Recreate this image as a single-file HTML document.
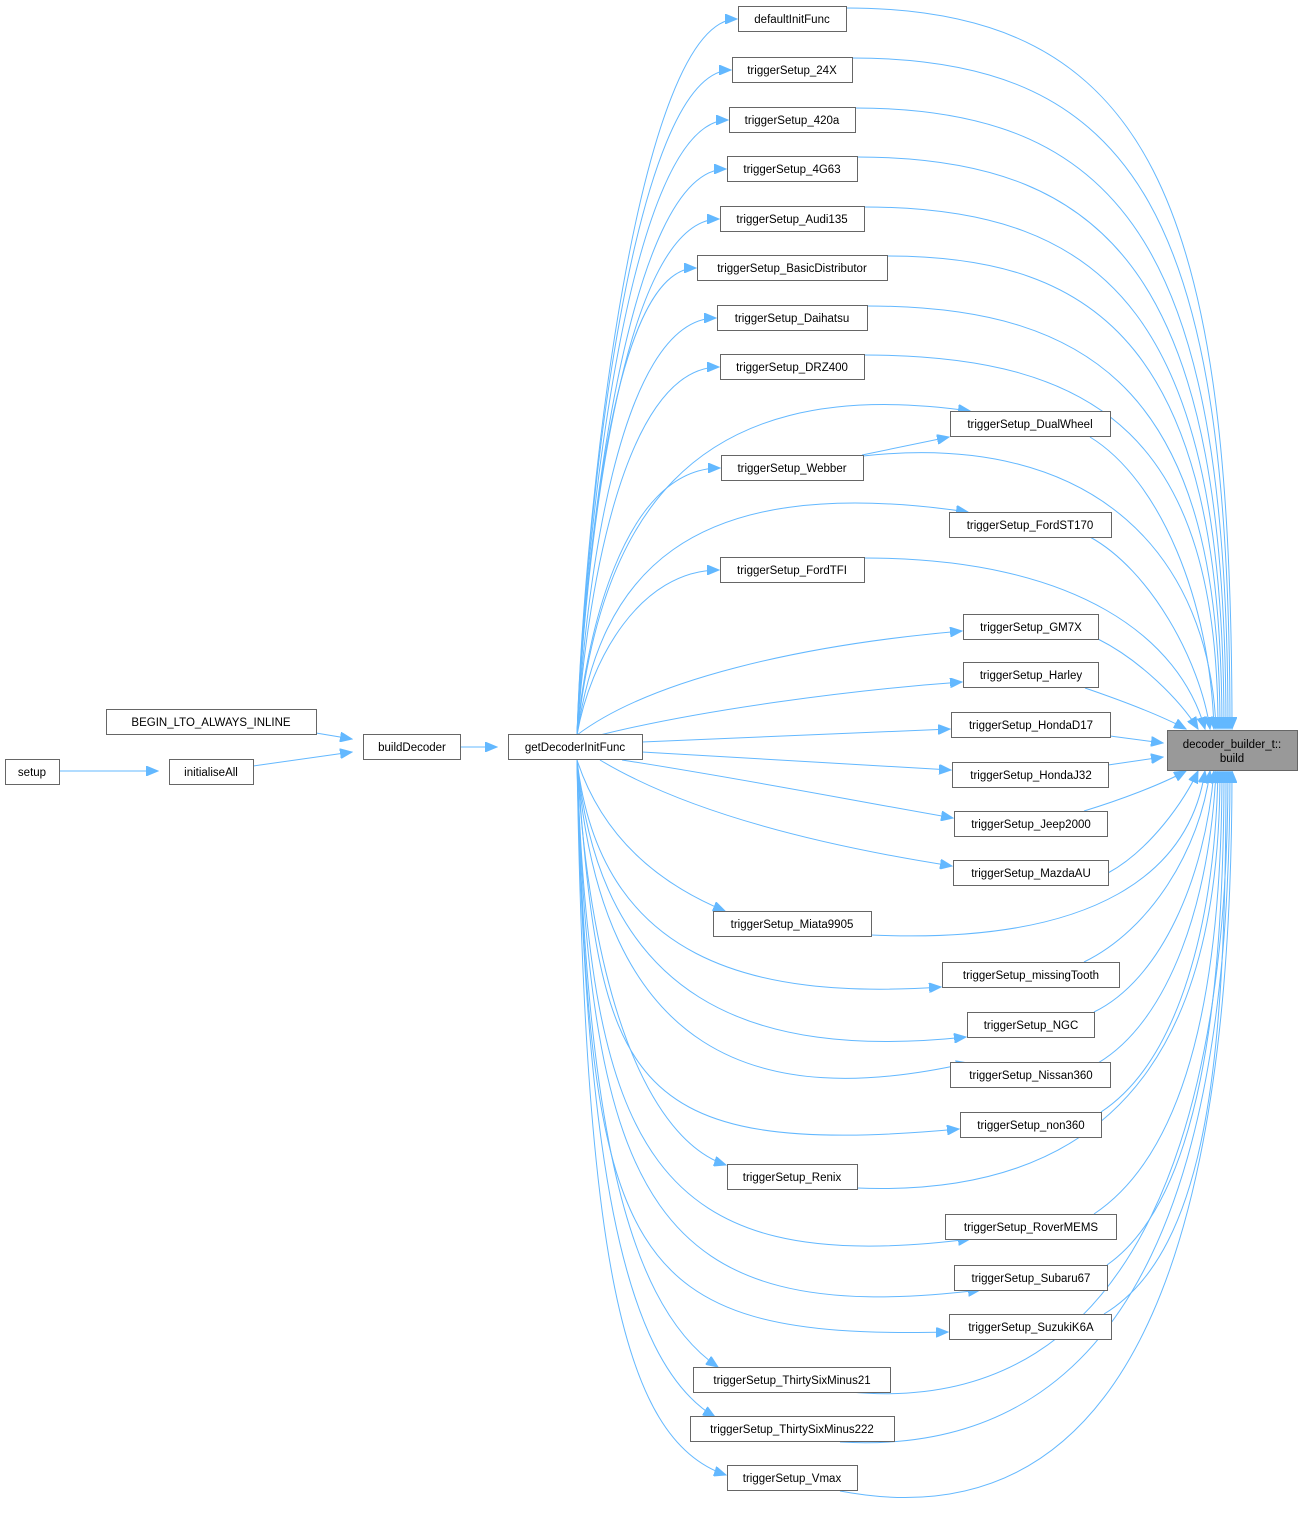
<!DOCTYPE html>
<html><head><meta charset="utf-8"><style>
html,body{margin:0;padding:0;background:#fff;}
svg{display:block;}
text{font-family:"Liberation Sans",Arial,sans-serif;font-size:11.5px;fill:#000;}
.n{fill:#fff;stroke:#666;stroke-width:1;}
.e{fill:none;stroke:#63b8ff;stroke-width:1;marker-end:url(#a);}
</style></head><body>
<svg width="1302" height="1514" viewBox="0 0 1302 1514" xmlns="http://www.w3.org/2000/svg">
<defs><marker id="a" markerWidth="13" markerHeight="10" refX="12" refY="5" orient="auto" markerUnits="userSpaceOnUse"><path d="M0,0 L12,5 L0,10 z" fill="#63b8ff" stroke="#63b8ff"/></marker></defs>

<path class="e" d="M59,771 L158,771"/>
<path class="e" d="M253,766 L352,752"/>
<path class="e" d="M316,733 L352,739"/>
<path class="e" d="M460,747 L497,747"/>

<path class="e" d="M577,735 C585,496 638,19 737,19"/>
<path class="e" d="M577,735 C585,513 632,70 731,70"/>
<path class="e" d="M577,735 C585,530 629,120 728,120"/>
<path class="e" d="M577,735 C585,546 627,169 726,169"/>
<path class="e" d="M577,735 C585,563 620,219 719,219"/>
<path class="e" d="M577,735 C585,580 610,268 696,268"/>
<path class="e" d="M577,735 C585,596 617,318 716,318"/>
<path class="e" d="M577,735 C585,612 620,367 719,367"/>
<path class="e" d="M577,735 C600,530 680,370 970,411"/>
<path class="e" d="M577,735 C585,644 621,468 720,468"/>
<path class="e" d="M577,735 C600,580 680,470 968,512"/>
<path class="e" d="M577,735 C590,660 640,570 719,570"/>
<path class="e" d="M577,735 C650,680 800,645 962,631"/>
<path class="e" d="M600,735 C700,710 850,690 962,682"/>
<path class="e" d="M642,742 L950,729"/>
<path class="e" d="M642,752 L951,770"/>
<path class="e" d="M622,760 C750,780 850,800 953,818"/>
<path class="e" d="M600,760 C700,820 850,850 952,866"/>
<path class="e" d="M577,760 C600,830 650,880 725,911"/>
<path class="e" d="M577,760 C600,960 750,1000 941,987"/>
<path class="e" d="M577,760 C600,1000 750,1060 966,1037"/>
<path class="e" d="M577,760 C600,1060 760,1110 968,1063"/>
<path class="e" d="M577,760 C600,1080 620,1160 959,1129"/>
<path class="e" d="M577,760 C590,1000 650,1140 726,1165"/>
<path class="e" d="M577,760 C590,1150 650,1280 970,1239"/>
<path class="e" d="M577,760 C590,1200 650,1330 980,1290"/>
<path class="e" d="M577,760 C590,1260 620,1340 948,1332"/>
<path class="e" d="M577,760 C585,1100 620,1300 718,1367"/>
<path class="e" d="M577,760 C585,1150 620,1360 715,1417"/>
<path class="e" d="M577,760 C585,1250 620,1440 726,1475"/>
<path class="e" d="M862,455 L949,437"/>

<path class="e" d="M846,8 C1150,8 1232,200 1232,729"/>
<path class="e" d="M852,58 C1140,58 1230,220 1230,729"/>
<path class="e" d="M855,108 C1130,108 1228,260 1228,729"/>
<path class="e" d="M857,157 C1120,157 1226,290 1226,729"/>
<path class="e" d="M864,207 C1110,207 1224,320 1224,729"/>
<path class="e" d="M887,256 C1100,256 1222,350 1222,729"/>
<path class="e" d="M867,306 C1100,306 1220,400 1220,729"/>
<path class="e" d="M864,355 C1100,355 1218,440 1218,729"/>
<path class="e" d="M1090,437 C1160,480 1210,600 1214,729"/>
<path class="e" d="M863,456 C1100,430 1210,560 1216,729"/>
<path class="e" d="M1090,537 C1150,570 1200,660 1210,729"/>
<path class="e" d="M864,558 C1080,558 1180,640 1205,729"/>
<path class="e" d="M1098,639 C1140,660 1180,700 1198,729"/>
<path class="e" d="M1085,688 C1120,700 1160,715 1186,729"/>
<path class="e" d="M1110,736 L1163,743"/>
<path class="e" d="M1108,765 L1163,757"/>
<path class="e" d="M1084,811 C1120,800 1160,785 1186,771"/>
<path class="e" d="M1108,873 C1150,850 1185,800 1198,771"/>
<path class="e" d="M871,935 C1100,945 1190,870 1205,771"/>
<path class="e" d="M1084,962 C1150,930 1200,850 1210,771"/>
<path class="e" d="M1094,1012 C1160,980 1205,880 1214,771"/>
<path class="e" d="M1098,1063 C1170,1020 1210,900 1216,771"/>
<path class="e" d="M1101,1112 C1180,1060 1215,920 1218,771"/>
<path class="e" d="M857,1188 C1150,1200 1220,1000 1220,771"/>
<path class="e" d="M1094,1214 C1190,1150 1222,980 1222,771"/>
<path class="e" d="M1107,1265 C1200,1200 1224,1000 1224,771"/>
<path class="e" d="M1104,1314 C1210,1250 1226,1050 1226,771"/>
<path class="e" d="M850,1392 C1150,1420 1228,1100 1228,771"/>
<path class="e" d="M840,1442 C1150,1460 1230,1150 1230,771"/>
<path class="e" d="M840,1491 C1150,1550 1232,1200 1232,771"/>

<rect class="n" x="5.5" y="759.5" width="54" height="25"/><text x="32" y="776" text-anchor="middle">setup</text>
<rect class="n" x="169.5" y="759.5" width="84" height="25"/><text x="211" y="776" text-anchor="middle">initialiseAll</text>
<rect class="n" x="106.5" y="709.5" width="210" height="25"/><text x="211" y="726" text-anchor="middle">BEGIN_LTO_ALWAYS_INLINE</text>
<rect class="n" x="363.5" y="734.5" width="97" height="25"/><text x="412" y="751" text-anchor="middle">buildDecoder</text>
<rect class="n" x="508.5" y="734.5" width="134" height="25"/><text x="575" y="751" text-anchor="middle">getDecoderInitFunc</text>
<rect x="1167.5" y="730.5" width="130" height="40" fill="#999" stroke="#666"/><text x="1232" y="748" text-anchor="middle">decoder_builder_t::</text><text x="1232" y="762" text-anchor="middle">build</text>

<g text-anchor="middle">
<rect class="n" x="738.5" y="6.5" width="108" height="25"/><text x="792" y="23">defaultInitFunc</text>
<rect class="n" x="732.5" y="57.5" width="120" height="25"/><text x="792" y="74">triggerSetup_24X</text>
<rect class="n" x="729.5" y="107.5" width="126" height="25"/><text x="792" y="124">triggerSetup_420a</text>
<rect class="n" x="727.5" y="156.5" width="130" height="25"/><text x="792" y="173">triggerSetup_4G63</text>
<rect class="n" x="720.5" y="206.5" width="144" height="25"/><text x="792" y="223">triggerSetup_Audi135</text>
<rect class="n" x="697.5" y="255.5" width="190" height="25"/><text x="792" y="272">triggerSetup_BasicDistributor</text>
<rect class="n" x="717.5" y="305.5" width="150" height="25"/><text x="792" y="322">triggerSetup_Daihatsu</text>
<rect class="n" x="720.5" y="354.5" width="144" height="25"/><text x="792" y="371">triggerSetup_DRZ400</text>
<rect class="n" x="950.5" y="411.5" width="160" height="25"/><text x="1030" y="428">triggerSetup_DualWheel</text>
<rect class="n" x="721.5" y="455.5" width="142" height="25"/><text x="792" y="472">triggerSetup_Webber</text>
<rect class="n" x="949.5" y="512.5" width="162" height="25"/><text x="1030" y="529">triggerSetup_FordST170</text>
<rect class="n" x="720.5" y="557.5" width="144" height="25"/><text x="792" y="574">triggerSetup_FordTFI</text>
<rect class="n" x="963.5" y="614.5" width="135" height="25"/><text x="1031" y="631">triggerSetup_GM7X</text>
<rect class="n" x="963.5" y="662.5" width="135" height="25"/><text x="1031" y="679">triggerSetup_Harley</text>
<rect class="n" x="951.5" y="712.5" width="159" height="25"/><text x="1031" y="729">triggerSetup_HondaD17</text>
<rect class="n" x="952.5" y="762.5" width="156" height="25"/><text x="1031" y="779">triggerSetup_HondaJ32</text>
<rect class="n" x="954.5" y="811.5" width="153" height="25"/><text x="1031" y="828">triggerSetup_Jeep2000</text>
<rect class="n" x="953.5" y="860.5" width="155" height="25"/><text x="1031" y="877">triggerSetup_MazdaAU</text>
<rect class="n" x="713.5" y="911.5" width="158" height="25"/><text x="792" y="928">triggerSetup_Miata9905</text>
<rect class="n" x="942.5" y="962.5" width="177" height="25"/><text x="1031" y="979">triggerSetup_missingTooth</text>
<rect class="n" x="967.5" y="1012.5" width="127" height="25"/><text x="1031" y="1029">triggerSetup_NGC</text>
<rect class="n" x="950.5" y="1062.5" width="160" height="25"/><text x="1031" y="1079">triggerSetup_Nissan360</text>
<rect class="n" x="960.5" y="1112.5" width="141" height="25"/><text x="1031" y="1129">triggerSetup_non360</text>
<rect class="n" x="727.5" y="1164.5" width="130" height="25"/><text x="792" y="1181">triggerSetup_Renix</text>
<rect class="n" x="945.5" y="1214.5" width="171" height="25"/><text x="1031" y="1231">triggerSetup_RoverMEMS</text>
<rect class="n" x="954.5" y="1265.5" width="153" height="25"/><text x="1031" y="1282">triggerSetup_Subaru67</text>
<rect class="n" x="949.5" y="1314.5" width="162" height="25"/><text x="1031" y="1331">triggerSetup_SuzukiK6A</text>
<rect class="n" x="693.5" y="1367.5" width="197" height="25"/><text x="792" y="1384">triggerSetup_ThirtySixMinus21</text>
<rect class="n" x="690.5" y="1416.5" width="204" height="25"/><text x="792" y="1433">triggerSetup_ThirtySixMinus222</text>
<rect class="n" x="727.5" y="1465.5" width="130" height="25"/><text x="792" y="1482">triggerSetup_Vmax</text>
</g>
</svg>
</body></html>
